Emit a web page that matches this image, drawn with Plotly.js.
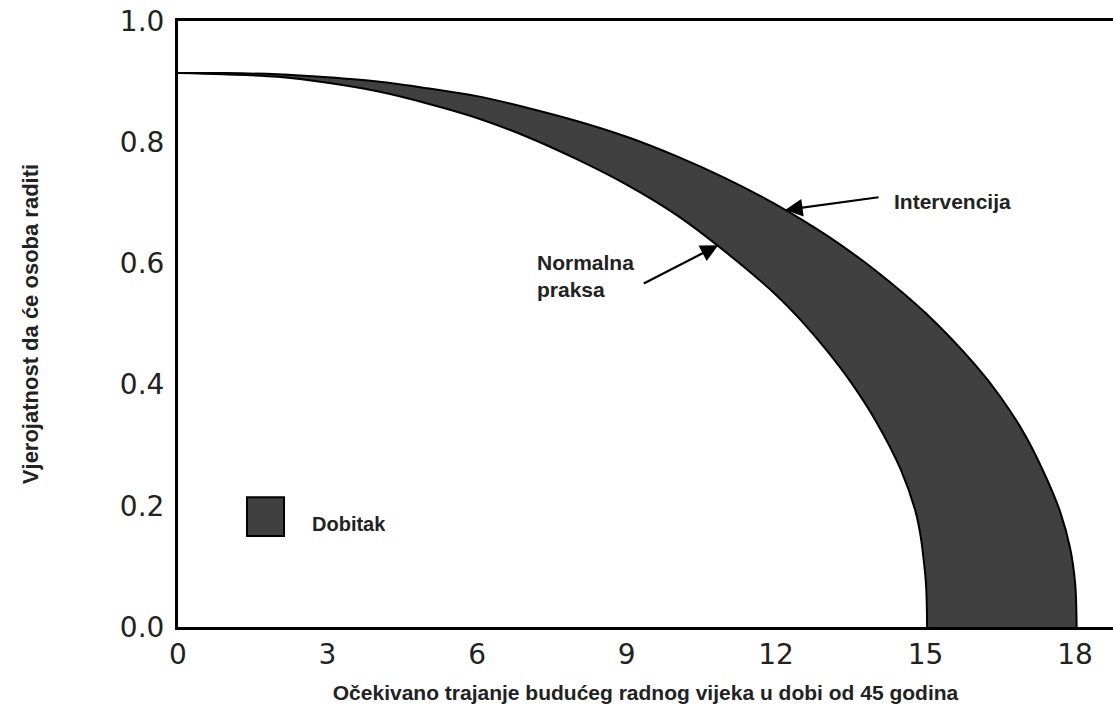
<!DOCTYPE html>
<html>
<head>
<meta charset="utf-8">
<script src="https://cdn.plot.ly/plotly-3.0.1.min.js"></script>
<style>
html, body { margin: 0; padding: 0; background: #ffffff; }
#chart { width: 1113px; height: 704px; }
</style>
</head>
<body>
<div id="chart"></div>
<script>
// Normalna praksa (inner boundary)
const normalX = [0, 0.9, 2, 3, 4, 5, 6, 7, 8, 9, 10, 11, 12, 12.5, 13, 13.5, 14, 14.5, 14.8, 14.9, 14.96, 15.01, 15.03];
const normalY = [0.914, 0.912, 0.908, 0.898, 0.884, 0.864, 0.840, 0.809, 0.772, 0.730, 0.680, 0.618, 0.548, 0.506, 0.458, 0.404, 0.340, 0.260, 0.190, 0.150, 0.112, 0.068, 0.0];

// Intervencija (outer boundary)
const interX = [0, 0.94, 2, 3, 4, 5, 6, 7, 8, 9, 10, 11, 12, 13, 14, 15, 16, 16.5, 17, 17.4, 17.7, 17.9, 18.0, 18.03];
const interY = [0.914, 0.914, 0.912, 0.907, 0.900, 0.889, 0.876, 0.857, 0.835, 0.809, 0.777, 0.740, 0.697, 0.647, 0.588, 0.518, 0.432, 0.380, 0.316, 0.250, 0.190, 0.130, 0.072, 0.0];

const xTickVals = [0, 3, 6, 9, 12, 15, 18];
const xTickText = ['0', '3', '6', '9', '12', '15', '18'];
const yTickVals = [0, 0.2, 0.4, 0.6, 0.8, 1.0];
const yTickText = ['0.0', '0.2', '0.4', '0.6', '0.8', '1.0'];

const xTitle = 'Očekivano trajanje budućeg radnog vijeka u dobi od 45 godina';
const yTitle = 'Vjerojatnost da će osoba raditi';
const labelInter = 'Intervencija';
const labelNormal = 'Normalna<br>praksa';
const legendLabel = 'Dobitak';

const textFont = { family: 'Liberation Sans, Arial, sans-serif', size: 21, color: '#222222' };
const tickFont = { family: 'DejaVu Sans, sans-serif', size: 28, color: '#222222' };

const traces = [
  {
    x: normalX, y: normalY, type: 'scatter', mode: 'lines',
    name: 'Normalna praksa', showlegend: false, hoverinfo: 'skip',
    line: { color: '#000000', width: 2, shape: 'spline', smoothing: 1.0 }
  },
  {
    x: interX, y: interY, type: 'scatter', mode: 'lines',
    name: 'Intervencija', showlegend: false, hoverinfo: 'skip',
    fill: 'tonexty', fillcolor: '#404040',
    line: { color: '#000000', width: 2, shape: 'spline', smoothing: 1.0 }
  }
];

const layout = {
  width: 1113, height: 704,
  margin: { l: 178, r: 0, t: 21, b: 77 },
  paper_bgcolor: '#ffffff', plot_bgcolor: '#ffffff',
  showlegend: false,
  xaxis: {
    range: [0, 18.76],
    tickvals: xTickVals, ticktext: xTickText,
    showline: true, linecolor: '#000000', linewidth: 3, mirror: true,
    showgrid: false, zeroline: false, ticks: '',
    ticklabelstandoff: 0,
    tickfont: tickFont,
    title: { text: '<b>' + xTitle + '</b>', font: textFont, standoff: 20 }
  },
  yaxis: {
    range: [0, 1],
    tickvals: yTickVals, ticktext: yTickText,
    showline: true, linecolor: '#000000', linewidth: 3, mirror: false,
    showgrid: false, zeroline: false, ticks: '',
    ticklabelstandoff: 5,
    tickfont: tickFont,
    title: { text: '<b>' + yTitle + '</b>', font: Object.assign({}, textFont, { size: 22 }), standoff: 76 }
  },
  shapes: [
    {
      type: 'rect', xref: 'paper', yref: 'paper',
      x0: 0.0738, x1: 0.1134, y0: 0.150, y1: 0.214,
      fillcolor: '#404040', line: { color: '#000000', width: 2 }
    }
  ],
  annotations: [
    {
      x: 14.33, y: 0.702, xref: 'x', yref: 'y', text: '<b>' + labelInter + '</b>',
      showarrow: false, xanchor: 'left', yanchor: 'middle', font: textFont
    },
    {
      x: 7.16, y: 0.580, xref: 'x', yref: 'y', text: '<b>' + labelNormal + '</b>',
      showarrow: false, xanchor: 'left', yanchor: 'middle', align: 'left', font: textFont
    },
    {
      x: 12.18, y: 0.688, xref: 'x', yref: 'y', text: '',
      showarrow: true, ax: 95, ay: -13, arrowhead: 2, arrowsize: 1.6, arrowwidth: 2.2,
      arrowcolor: '#000000', standoff: 0
    },
    {
      x: 10.84, y: 0.630, xref: 'x', yref: 'y', text: '',
      showarrow: true, ax: -76, ay: 39, arrowhead: 2, arrowsize: 1.6, arrowwidth: 2.2,
      arrowcolor: '#000000', standoff: 0
    },
    {
      x: 0.141, y: 0.170, xref: 'paper', yref: 'paper', text: '<b>' + legendLabel + '</b>',
      showarrow: false, xanchor: 'left', yanchor: 'middle', font: Object.assign({}, textFont, { size: 20 })
    }
  ]
};

Plotly.newPlot('chart', traces, layout, { displayModeBar: false, staticPlot: true });
</script>
</body>
</html>
